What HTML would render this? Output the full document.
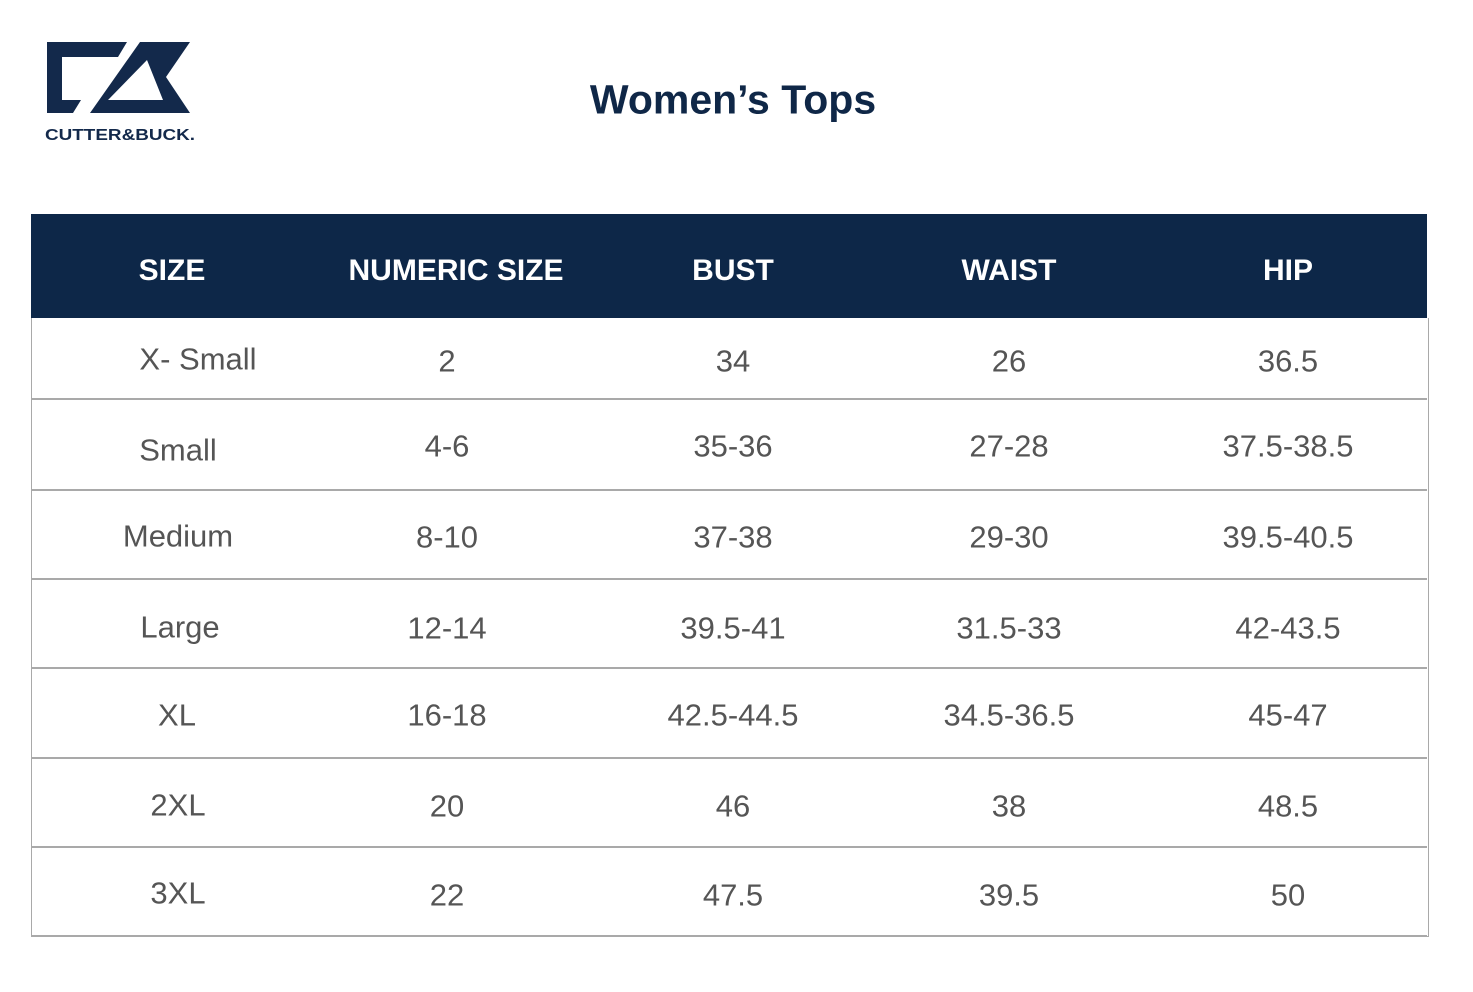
<!DOCTYPE html>
<html><head><meta charset="utf-8"><style>
body{margin:0;width:1473px;height:992px;background:#fff;position:relative;overflow:hidden;font-family:"Liberation Sans",sans-serif}
.t{position:absolute;transform:translate(-50%,-50%);white-space:nowrap;color:#555;font-size:31px;line-height:1}
.h{color:#fff;font-weight:bold;font-size:30px}
.line{position:absolute;left:31px;width:1396px;height:2px;background:#a9a9a9}
</style></head><body>
<svg style="position:absolute;left:0;top:0" width="260" height="160">
<polygon points="47,42 127,42 118,57 62,57 62,100 81,100 73,113 47,113" fill="#13294b"/>
<polygon points="140,42 190,42 166,77 190,113 90,113" fill="#13294b"/>
<polygon points="108,100 147,60 163,100" fill="#fff"/>
<text x="45" y="140" font-family="Liberation Sans" font-weight="bold" font-size="15.5" fill="#13294b" textLength="150" lengthAdjust="spacingAndGlyphs">CUTTER&amp;BUCK.</text>
</svg>
<div class="t" style="left:733px;top:100px;font-size:41px;font-weight:bold;color:#0f2747">Women’s Tops</div>
<div style="position:absolute;left:31px;top:214px;width:1396px;height:104px;background:#0d2748"></div>
<div style="position:absolute;left:31px;top:318px;width:1396px;height:618px;border:1px solid #a9a9a9;border-top:none;box-sizing:content-box"></div>
<div class="line" style="top:398px"></div>
<div class="line" style="top:489px"></div>
<div class="line" style="top:578px"></div>
<div class="line" style="top:667px"></div>
<div class="line" style="top:757px"></div>
<div class="line" style="top:846px"></div>
<div class="line" style="top:935px"></div>
<div class="t h" style="left:172px;top:271px">SIZE</div>
<div class="t h" style="left:456px;top:271px">NUMERIC SIZE</div>
<div class="t h" style="left:733px;top:271px">BUST</div>
<div class="t h" style="left:1009px;top:271px">WAIST</div>
<div class="t h" style="left:1288px;top:271px">HIP</div>

<div class="t" style="left:198px;top:359px">X- Small</div><div class="t" style="left:447px;top:361px">2</div><div class="t" style="left:733px;top:361px">34</div><div class="t" style="left:1009px;top:361px">26</div><div class="t" style="left:1288px;top:361px">36.5</div>
<div class="t" style="left:178px;top:450px">Small</div><div class="t" style="left:447px;top:446px">4-6</div><div class="t" style="left:733px;top:446px">35-36</div><div class="t" style="left:1009px;top:446px">27-28</div><div class="t" style="left:1288px;top:446px">37.5-38.5</div>
<div class="t" style="left:178px;top:536px">Medium</div><div class="t" style="left:447px;top:537px">8-10</div><div class="t" style="left:733px;top:537px">37-38</div><div class="t" style="left:1009px;top:537px">29-30</div><div class="t" style="left:1288px;top:537px">39.5-40.5</div>
<div class="t" style="left:180px;top:627px">Large</div><div class="t" style="left:447px;top:628px">12-14</div><div class="t" style="left:733px;top:628px">39.5-41</div><div class="t" style="left:1009px;top:628px">31.5-33</div><div class="t" style="left:1288px;top:628px">42-43.5</div>
<div class="t" style="left:177px;top:715px">XL</div><div class="t" style="left:447px;top:715px">16-18</div><div class="t" style="left:733px;top:715px">42.5-44.5</div><div class="t" style="left:1009px;top:715px">34.5-36.5</div><div class="t" style="left:1288px;top:715px">45-47</div>
<div class="t" style="left:178px;top:805px">2XL</div><div class="t" style="left:447px;top:806px">20</div><div class="t" style="left:733px;top:806px">46</div><div class="t" style="left:1009px;top:806px">38</div><div class="t" style="left:1288px;top:806px">48.5</div>
<div class="t" style="left:178px;top:893px">3XL</div><div class="t" style="left:447px;top:895px">22</div><div class="t" style="left:733px;top:895px">47.5</div><div class="t" style="left:1009px;top:895px">39.5</div><div class="t" style="left:1288px;top:895px">50</div>
</body></html>
